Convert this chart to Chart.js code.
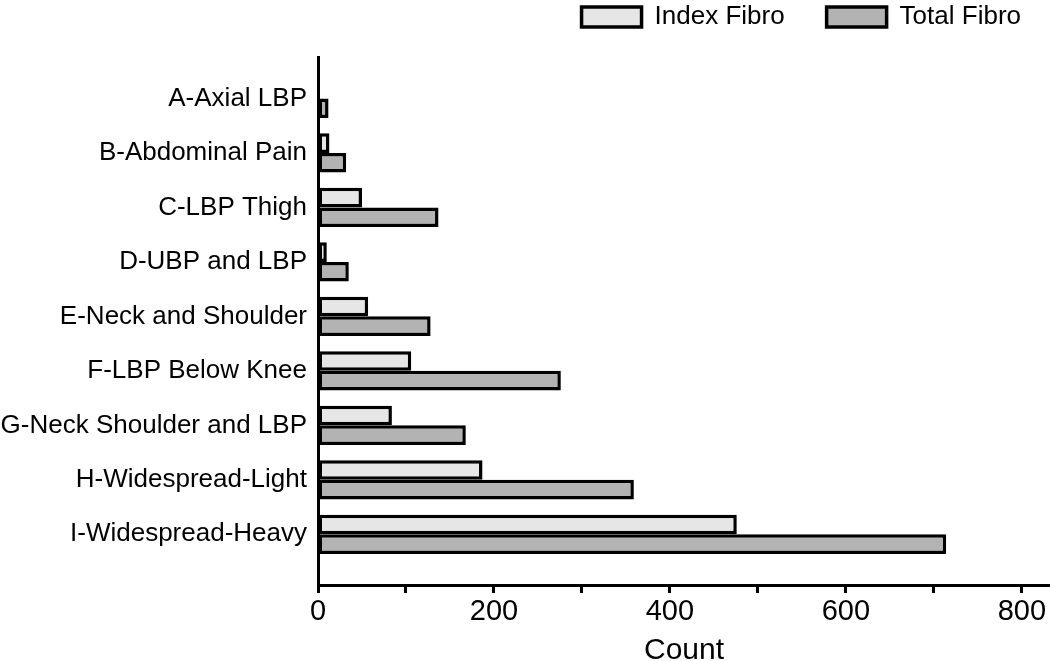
<!DOCTYPE html>
<html>
<head>
<meta charset="utf-8">
<script src="https://cdn.jsdelivr.net/npm/chart.js@4.4.0/dist/chart.umd.min.js"></script>
<style>
    html, body { margin: 0; padding: 0; background: #fff; }
    #wrap { width: 1050px; height: 661px; }
</style>
</head>
<body>
<div id="wrap"><canvas id="fibroChart" width="1050" height="661"></canvas></div>
<script>
// ---- DATA ----
const categories = [
    'A-Axial LBP',
    'B-Abdominal Pain',
    'C-LBP Thigh',
    'D-UBP and LBP',
    'E-Neck and Shoulder',
    'F-LBP Below Knee',
    'G-Neck Shoulder and LBP',
    'H-Widespread-Light',
    'I-Widespread-Heavy'
];
const indexFibro = [2, 13, 50, 10, 57, 106, 84, 187, 476];
const totalFibro = [12, 32, 137, 35, 128, 276, 168, 359, 714];
const xTicks = [0, 100, 200, 300, 400, 500, 600, 700, 800];
const xLabels = ['0', '', '200', '', '400', '', '600', '', '800'];

const toPoints = (values) => values.map((v, i) => ({ x: v, y: i }));

// legend sits in a 57px strip above the plot, pushed a little toward the right edge
const legendSpace = {
    id: 'legendSpace',
    beforeInit(chart) {
        const legend = chart.legend;
        if (!legend) return;
        const origFit = legend.fit.bind(legend);
        legend.fit = function () {
            origFit();
            this.height = 57;
        };
    },
    afterLayout(chart) {
        if (!chart.legend) return;
        chart.legend.top = 4 - 42;
        chart.legend.right += 13;
    }
};

const ctx = document.getElementById('fibroChart').getContext('2d');

new Chart(ctx, {
    type: 'bar',
    data: {
        datasets: [
            {
                label: 'Index Fibro',
                data: toPoints(indexFibro),
                backgroundColor: '#e6e6e6',
                borderColor: '#000',
                borderWidth: 3.5,
                borderSkipped: false
            },
            {
                label: 'Total Fibro',
                data: toPoints(totalFibro),
                backgroundColor: '#b3b3b3',
                borderColor: '#000',
                borderWidth: 3.5,
                borderSkipped: false
            }
        ]
    },
    options: {
        indexAxis: 'y',
        responsive: false,
        animation: false,
        layout: { padding: 0 },
        datasets: {
            bar: { categoryPercentage: 0.72, barPercentage: 1 }
        },
        scales: {
            y: {
                type: 'linear',
                reverse: true,
                offset: false,
                min: -0.76,
                max: 8.93,
                afterBuildTicks: (scale) => {
                    scale.ticks = categories.map((_, i) => ({ value: i }));
                },
                afterFit: (scale) => { scale.width = 318; },
                grid: { display: true, offset: false, drawOnChartArea: false, drawTicks: false },
                border: { color: '#000', width: 3 },
                ticks: {
                    padding: 11,
                    color: '#000',
                    font: { family: "'Liberation Sans', Arial, sans-serif", size: 26 },
                    callback: (value) => categories[value]
                }
            },
            x: {
                type: 'linear',
                min: 0,
                max: 832,
                afterBuildTicks: (scale) => {
                    scale.ticks = xTicks.map(v => ({ value: v }));
                },
                afterFit: (scale) => { scale.height = 76; },
                grid: {
                    display: true,
                    drawOnChartArea: false,
                    drawTicks: true,
                    tickLength: 8,
                    tickWidth: 3,
                    tickColor: '#000'
                },
                border: { color: '#000', width: 3 },
                ticks: {
                    padding: 2,
                    color: '#000',
                    autoSkip: false,
                    maxRotation: 0,
                    font: { family: "'Liberation Sans Narrow', 'Liberation Sans', Arial, sans-serif", size: 29 },
                    callback: (value, i) => xLabels[i]
                },
                title: {
                    display: true,
                    text: 'Count',
                    color: '#000',
                    padding: { top: 0, bottom: 0 },
                    font: { family: "'Liberation Sans', Arial, sans-serif", size: 30, lineHeight: 0.7 }
                }
            }
        },
        plugins: {
            legend: {
                position: 'top',
                align: 'end',
                labels: {
                    boxWidth: 60,
                    boxHeight: 20,
                    padding: 42,
                    color: '#000',
                    font: { family: "'Liberation Sans', Arial, sans-serif", size: 26 }
                }
            },
            tooltip: { enabled: false }
        }
    },
    plugins: [legendSpace]
});
</script>
</body>
</html>
